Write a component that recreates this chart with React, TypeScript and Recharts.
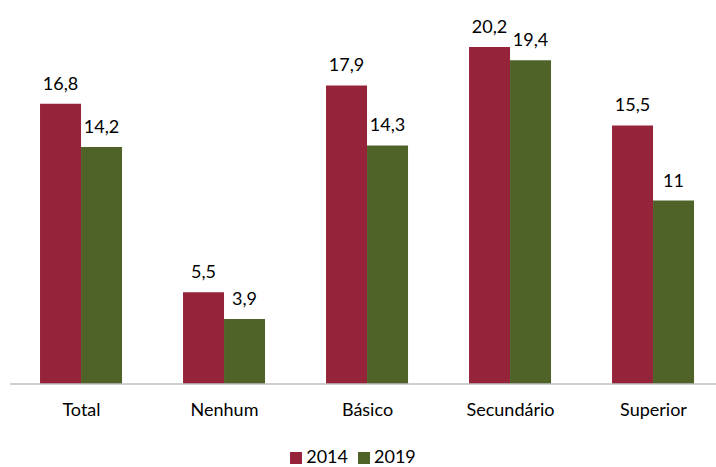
import React from "react";
import { BarChart, Bar, XAxis, YAxis, Legend, LabelList } from "recharts";

const categories = ["Total", "Nenhum", "Básico", "Secundário", "Superior"];
const values2014 = [16.8, 5.5, 17.9, 20.2, 15.5];
const values2019 = [14.2, 3.9, 14.3, 19.4, 11];

const data = categories.map((name, i) => ({
  name,
  y2014: values2014[i],
  y2019: values2019[i],
}));

const RED = "#952339";
const GREEN = "#4f6228";
const FONT = "Lato, 'Open Sans', sans-serif";

const fmt = (v: any) => String(v).replace(".", ",");

export default function App() {
  return (
    <div style={{ position: "absolute", left: 0, top: 0, width: 716, height: 467, overflow: "hidden", background: "#fff" }}>
      <BarChart
        width={726}
        height={467}
        data={data}
        margin={{ top: 17, right: 1, left: 10, bottom: 0 }}
        barCategoryGap="21%"
        barGap={0}
        style={{ fontFamily: FONT }}
      >
        <XAxis
          dataKey="name"
          height={61}
          axisLine={{ stroke: "#bfbfbf", strokeWidth: 1.5 }}
          tickLine={false}
          tick={{ fill: "#000", fontSize: 18, dy: 11 }}
          interval={0}
        />
        <YAxis hide domain={[0, 22]} />
        <Legend
          iconType="square"
          iconSize={12}
          verticalAlign="bottom"
          wrapperStyle={{ bottom: 0, left: 0, width: 716, fontSize: 18, lineHeight: "22px", color: "#000" }}
          formatter={(v) => <span style={{ color: "#000" }}>{v}</span>}
        />
        <Bar dataKey="y2014" name="2014" fill={RED} isAnimationActive={false}>
          <LabelList dataKey="y2014" position="top" offset={14} formatter={fmt} fill="#000" fontSize={18} />
        </Bar>
        <Bar dataKey="y2019" name="2019" fill={GREEN} isAnimationActive={false}>
          <LabelList dataKey="y2019" position="top" offset={14} formatter={fmt} fill="#000" fontSize={18} />
        </Bar>
      </BarChart>
    </div>
  );
}
